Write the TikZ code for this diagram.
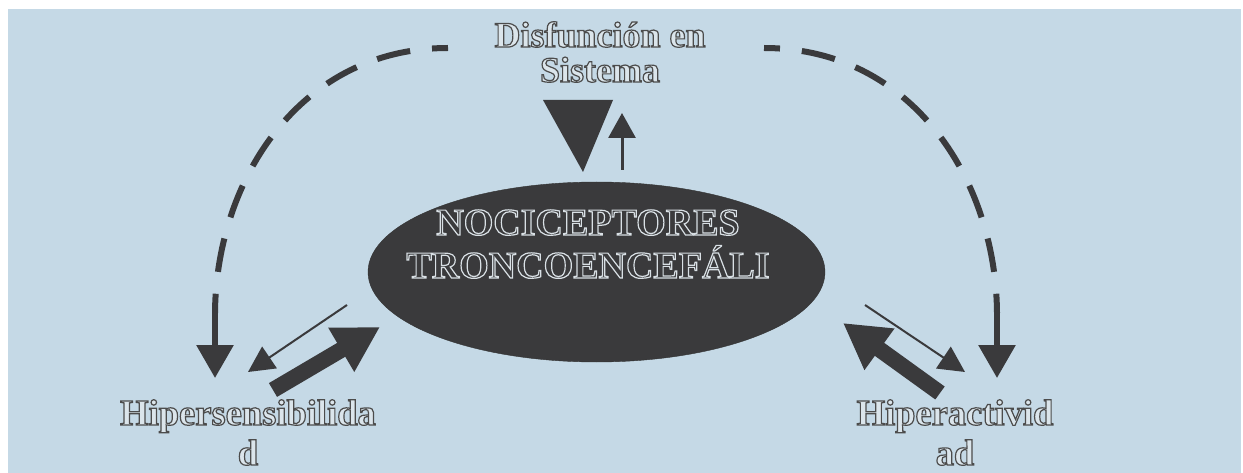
\documentclass[tikz,border=0pt]{standalone}
\usepackage{fontspec}
\setmainfont{Liberation Serif}
\usetikzlibrary{shapes.geometric, arrows.meta}
\definecolor{bgblue}{HTML}{C5D9E6}
\definecolor{ink}{HTML}{3A3A3C}
% hollow letters: fill rgb, stroke rgb, text
\newcommand\hollow[3]{\special{pdf:literal direct #1 rg #2 RG 2 Tr 1.2 w}#3\special{pdf:literal direct 0 Tr}}

\begin{document}
\begin{tikzpicture}[x=1pt, y=-1pt,
        lbl/.style={font=\fontsize{36.5}{40}\selectfont\bfseries, align=center, inner sep=0, anchor=base},
        arcline/.style={line width=6pt, ink, dash pattern=on 34pt off 22pt, dash phase=18pt},
        drop/.style={line width=6pt, ink, -{Triangle[length=33pt, width=36pt]}},
        thin/.style={line width=2pt, ink, -{Triangle[length=26pt, width=26pt]}},
        thick/.style={line width=16pt, ink, -{Triangle[length=45pt, width=48pt]}}]
        \useasboundingbox (0,0) rectangle (1243,473);
        \fill[white] (0,0) rectangle (1243,473);
        \fill[bgblue] (8,9) rectangle (1241,473);
        % centre
        \node[ellipse, fill=ink, draw=black!80, minimum width=457pt, minimum height=180pt, inner sep=0]
            (noci) at (596.5,272) {};
        \node[lbl, font=\fontsize{38}{43}\selectfont\bfseries] (nocitxt) at (588,278)
            {\hollow{0.23 0.23 0.24}{0.85 0.88 0.9}{NOCICEPTORES\\TRONCOENCEFÁLI}};
        % labels
        \node[lbl, font=\fontsize{36}{35}\selectfont\bfseries] (dis) at (600,82)
            {\hollow{0.86 0.9 0.92}{0.3 0.3 0.3}{Disfunción en\\Sistema}};
        \node[lbl] (hs) at (248,465) {\hollow{0.86 0.9 0.92}{0.3 0.3 0.3}{Hipersensibilida\\d}};
        \node[lbl] (ha) at (955,465) {\hollow{0.86 0.9 0.92}{0.3 0.3 0.3}{Hiperactivid\\ad}};
        % top marks
        \fill[ink] (543,100) -- (613,100) -- (583,172) -- cycle;
        \coordinate (up0) at (622,170);
        \coordinate (up1) at (622,113);
        \draw[line width=3pt, ink, -{Triangle[length=25pt, width=27pt]}] (up0) -- (up1);
        % dashed loops
        \coordinate (dl0) at (448,48);
        \coordinate (dl1) at (215,313);
        \coordinate (dl2) at (215,378);
        \coordinate (dr0) at (764,48);
        \coordinate (dr1) at (997,313);
        \coordinate (dr2) at (997,378);
        \draw[arcline] (dl0) .. controls (300,48) and (216,180) .. (dl1);
        \draw[drop] (dl1) -- (dl2);
        \draw[arcline] (dr0) .. controls (912,48) and (996,180) .. (dr1);
        \draw[drop] (dr1) -- (dr2);
        % side arrows
        \coordinate (tl0) at (347,305);
        \coordinate (tl1) at (248,372);
        \coordinate (kl0) at (273,390);
        \coordinate (kl1) at (380,327);
        \coordinate (tr0) at (865,305);
        \coordinate (tr1) at (965,372);
        \coordinate (kr0) at (940,393);
        \coordinate (kr1) at (843,323);
        \draw[thin] (tl0) -- (tl1);
        \draw[thick] (kl0) -- (kl1);
        \draw[thin] (tr0) -- (tr1);
        \draw[thick] (kr0) -- (kr1);
    \end{tikzpicture}
\end{document}
